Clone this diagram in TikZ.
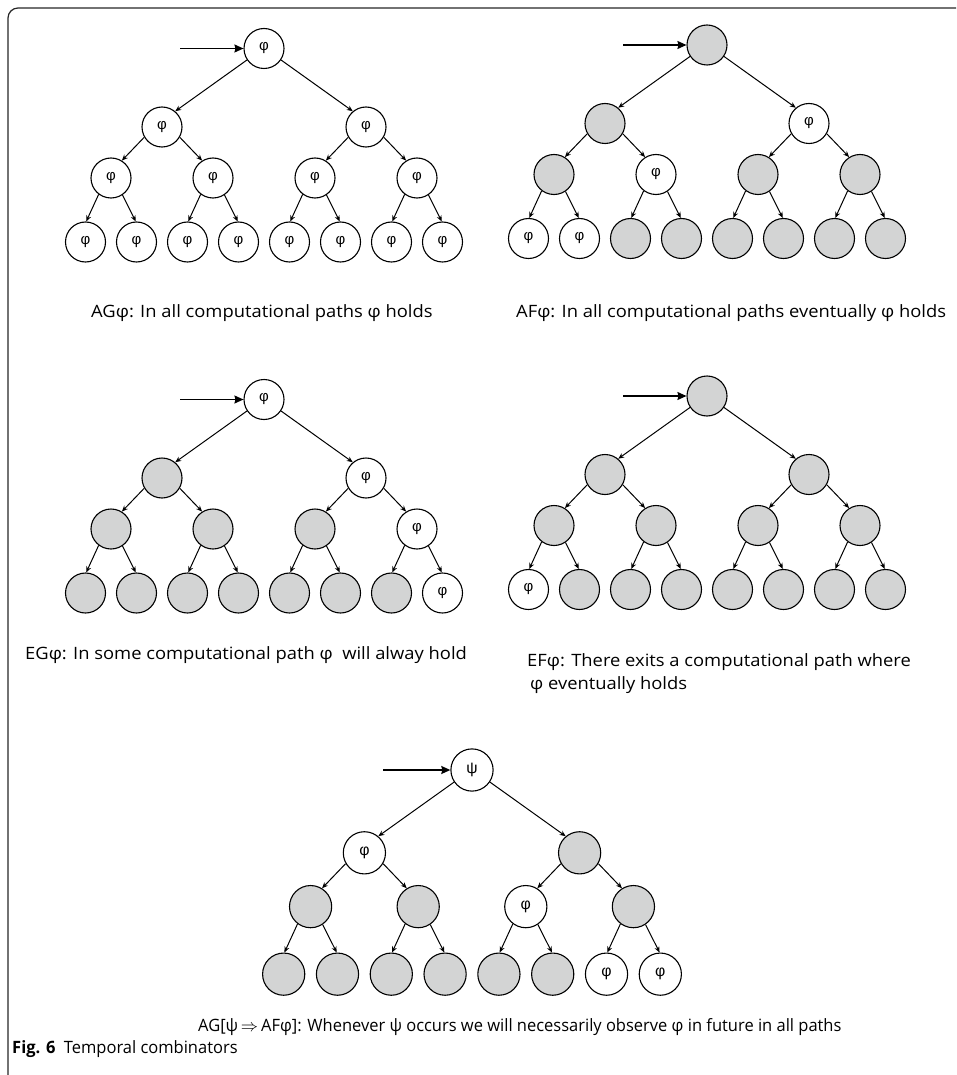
\documentclass[tikz,border=0pt]{standalone}
\usepackage{fontspec}
\setmainfont{Open Sans}
\newfontfamily\capfont[FakeStretch=1.08]{Open Sans}
\newfontfamily\condfont[FakeStretch=0.97]{Open Sans}
\newfontfamily\nodefont{Liberation Sans}
\usetikzlibrary{arrows.meta}

\definecolor{treegray}{RGB}{211,212,212}
\colorlet{fillp}{white}
\colorlet{fillg}{treegray}
\colorlet{fills}{white}
\newcommand\lblp{φ}
\newcommand\lblg{}
\newcommand\lbls{ψ}

% One computation tree of depth 3: #1 name prefix, (#2,#3) root centre,
% #4 scale, #5 cell kinds in heap order (p = phi, g = grey, s = psi)
\newcommand\ctltree[5]{%
  \begin{scope}[shift={(#2,#3)}, scale=#4, transform shape]
    \foreach \i/\px/\py in {0/0/0, 1/-102/78.5, 2/102/78.5,
        3/-153/129.5, 4/-51/129.5, 5/51/129.5, 6/153/129.5,
        7/-178.5/193.5, 8/-127.5/193.5, 9/-76.5/193.5, 10/-25.5/193.5,
        11/25.5/193.5, 12/76.5/193.5, 13/127.5/193.5, 14/178.5/193.5}{
      \pgfmathsetmacro\cellkind{{#5}[\i]}
      \node[cell=\cellkind] (#1n\i) at (\px,\py) {\csname lbl\cellkind\endcsname};
    }
    \coordinate (#1in) at (-84,0);
    \draw[entry] (#1in) -- (#1n0);
    \draw[edge] (#1n0.-146) -- (#1n1.50);
    \draw[edge] (#1n0.-34) -- (#1n2.130);
    \foreach \p/\a/\b in {1/3/4, 2/5/6}{
      \draw[edge] (#1n\p.-150) -- (#1n\a.58);
      \draw[edge] (#1n\p.-30) -- (#1n\b.122);
    }
    \foreach \p/\a/\b in {3/7/8, 4/9/10, 5/11/12, 6/13/14}{
      \draw[edge] (#1n\p.-127) -- (#1n\a.88);
      \draw[edge] (#1n\p.-56) -- (#1n\b.92);
    }
  \end{scope}}

\begin{document}
\begin{tikzpicture}[x=1pt, y=-1pt,
  cell/.style={circle, draw=black, line width=1.1pt, minimum size=40pt,
    inner sep=0pt, fill=fill#1, font=\nodefont\fontsize{15}{15}\selectfont},
  edge/.style={line width=1pt, -{Stealth[length=6pt,width=5pt]}},
  entry/.style={line width=1.4pt, -{Stealth[length=9pt,width=8pt,inset=1pt]}},
  caption/.style={font=\capfont\fontsize{17}{23}\selectfont, inner sep=0pt, anchor=west},
  condcaption/.style={font=\condfont\fontsize{17}{23}\selectfont, inner sep=0pt, anchor=west},
]
\useasboundingbox (0,0) rectangle (956,1075);

% figure frame, open to the right and bottom
\begin{scope}
  \clip (0,0) rectangle (956,1075);
  \draw[black!85, line width=1.2pt, rounded corners=10pt] (8,8) rectangle (990,1110);
\end{scope}

% the five temporal operators
\ctltree{A}{264}{48.5}{1}{"p","p","p","p","p","p","p","p","p","p","p","p","p","p","p"}
\ctltree{B}{707}{45}{1}{"g","g","p","g","p","g","g","p","p","g","g","g","g","g","g"}
\ctltree{C}{264}{399.5}{1}{"p","g","p","g","g","g","p","g","g","g","g","g","g","g","p"}
\ctltree{D}{707}{396}{1}{"g","g","g","g","g","g","g","p","g","g","g","g","g","g","g"}
\ctltree{E}{472}{770}{1.055}{"s","p","g","g","g","p","g","g","g","g","g","g","g","p","p"}

% captions
\node[caption] (capAG) at (91,313) {AGφ: In all computational paths φ holds};
\node[caption] (capAF) at (516,313) {AFφ: In all computational paths eventually φ holds};
\node[caption] (capEG) at (25,655) {EGφ: In some computational path φ~ will alway hold};
\node[caption, align=left] (capEF) at (527,673.5) {EFφ: There exits a computational path where\\\hspace*{3pt}φ eventually holds};
\node[condcaption] (capAGAF) at (198,1027) {AG[ψ\,$\Rightarrow$\,AFφ]: Whenever ψ occurs we will necessarily observe φ in future in all paths};
\node[condcaption] (figcap) at (12,1049) {\textbf{Fig. 6}\enspace Temporal combinators};
\end{tikzpicture}
\end{document}
